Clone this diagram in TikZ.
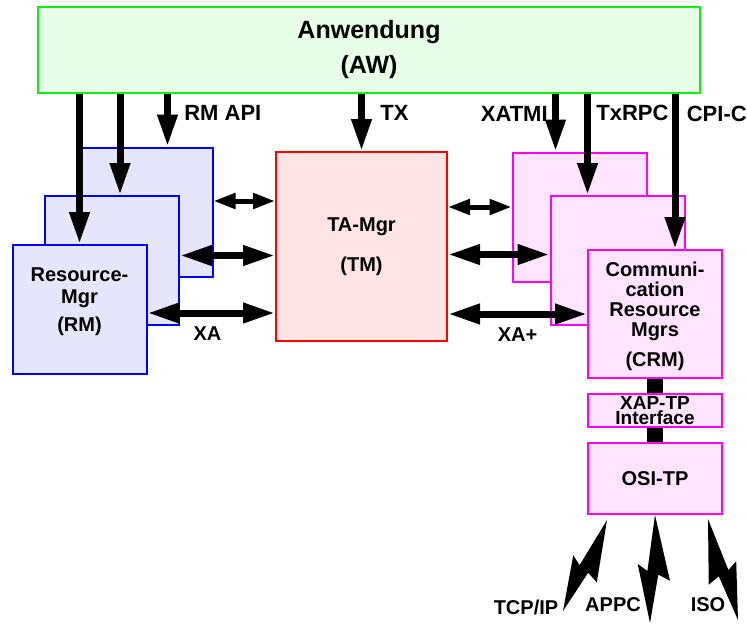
\documentclass[tikz,border=0pt]{standalone}
\usepackage{fontspec}
\setmainfont{Liberation Sans}
\usetikzlibrary{arrows.meta,calc}

\definecolor{awline}{HTML}{11EE11}
\definecolor{awfill}{HTML}{E6FFE6}
\definecolor{rmline}{HTML}{0000FF}
\definecolor{rmfill}{HTML}{E6E6FA}
\definecolor{tmline}{HTML}{FF0000}
\definecolor{tmfill}{HTML}{FFE4E4}
\definecolor{crmline}{HTML}{FF00FF}
\definecolor{crmfill}{HTML}{FFE4FF}

% lightning bolt from #1 to #2, #3/#4 = side angles
\newcommand\flash[4]{%
  \fill (#1) -- ($(#1)!0.6!(#2)!18pt!#3:(#2)$) -- ($(#1)!0.55!(#2)!6pt!#3:(#2)$) -- (#2)
    -- ($(#1)!0.46!(#2)!15pt!#4:(#2)$) -- ($(#1)!0.52!(#2)!5pt!#4:(#2)$) -- cycle;}

\begin{document}
\begin{tikzpicture}[
    x=1pt, y=-1pt,
    box/.style={draw, line width=2pt, minimum width=134pt, minimum height=129pt, align=center, font=\bfseries\fontsize{20}{22}\selectfont},
    rmbox/.style={box, draw=rmline, fill=rmfill},
    crmbox/.style={box, draw=crmline, fill=crmfill},
    call/.style={line width=7pt, -{Triangle[length=32pt, width=19pt]}},
    xa/.style={line width=7pt, {Triangle[length=32pt, width=19pt]}-{Triangle[length=32pt, width=19pt]}},
    xasmall/.style={line width=5pt, {Triangle[length=22pt, width=15pt]}-{Triangle[length=22pt, width=15pt]}},
    stackbar/.style={line width=16pt},
    apilabel/.style={font=\bfseries\fontsize{22}{24}\selectfont},
    xalabel/.style={font=\bfseries\fontsize{20}{22}\selectfont},
]
\useasboundingbox (0,0) rectangle (747,624);

\node[box, draw=awline, fill=awfill, minimum width=662pt, minimum height=86pt, font=\bfseries\fontsize{25}{35}\selectfont] (aw) at (369,50) {Anwendung\\(AW)};

\node[rmbox] (rmA) at (145.5,212) {};
\node[rmbox] (rmB) at (112,260.5) {};
\node[rmbox, text depth=20pt] (rm) at (79.5,309.5) {Resource-\\Mgr\\[6pt](RM)};

\node[box, draw=tmline, fill=tmfill, minimum width=171pt, minimum height=189pt] (tm) at (361.5,246.5) {TA-Mgr\\[18pt](TM)};

\node[crmbox] (crmA) at (579.5,217) {};
\node[crmbox] (crmB) at (617.5,260.5) {};
\node[crmbox, minimum height=128pt, text depth=0pt, font=\bfseries\fontsize{20}{20}\selectfont] (crm) at (655,314) {Communi-\\cation\\Resource\\Mgrs\\[10pt](CRM)};
\node[crmbox, minimum height=33pt, inner sep=0pt, font=\bfseries\fontsize{19}{15}\selectfont] (xap) at (655,410.5) {XAP-TP\\Interface};
\node[crmbox, minimum height=71pt] (osi) at (655,478.5) {OSI-TP};

% calls from the application
\coordinate (rmAin) at ([xshift=22pt]rmA.north);
\coordinate (rmBin) at ([xshift=8pt]rmB.north);
\coordinate (crmAin) at ([xshift=-24pt]crmA.north);
\coordinate (crmBin) at ([xshift=-30pt]crmB.north);
\coordinate (crmin) at ([xshift=20pt]crm.north);

\draw[call] (aw.south -| rm.north) -- (rm.north);
\draw[call] (aw.south -| rmBin) -- (rmBin);
\draw[call] (aw.south -| rmAin) -- node[apilabel, right=10pt, pos=0.37] {RM API} (rmAin);
\draw[call] (aw.south -| tm.north) -- node[apilabel, right=12pt, pos=0.34] {TX} (tm.north);
\draw[call] (aw.south -| crmAin) -- node[apilabel, left=1pt, pos=0.34] {XATMI} (crmAin);
\draw[call] (aw.south -| crmBin) -- node[apilabel, right=2pt, pos=0.19] {TxRPC} (crmBin);
\draw[call] (aw.south -| crmin) -- node[apilabel, right=5pt, pos=0.13] {CPI-C} (crmin);

% XA / XA+ interfaces
\coordinate (rmAout) at ([yshift=11pt]rmA.east);
\coordinate (rmBout) at ([yshift=5pt]rmB.east);
\coordinate (rmout) at ([yshift=-3.5pt]rm.east);
\draw[xasmall] (rmAout) -- (rmAout -| tm.west);
\draw[xa] (rmBout) -- (rmBout -| tm.west);
\draw[xa] (rmout) -- node[xalabel, below=7pt, pos=0.47] {XA} (rmout -| tm.west);

\coordinate (crmAport) at ([yshift=10pt]crmA.west);
\coordinate (crmBport) at ([yshift=6pt]crmB.west);
\draw[xasmall] (crmAport -| tm.east) -- (crmAport);
\draw[xa] (crmBport -| tm.east) -- (crmBport);
\draw[xa] (crm.west -| tm.east) -- node[xalabel, below=7pt, pos=0.5] {XA+} (crm.west);

% protocol stack
\draw[stackbar] (crm.south) -- (xap.north);
\draw[stackbar] (xap.south) -- (osi.north);

% networks
\coordinate (tcpfrom) at ([xshift=20pt,yshift=-5pt]osi.south west);
\coordinate (tcp) at (563,611);
\coordinate (appc) at (650,623);
\coordinate (isofrom) at ([xshift=-15pt,yshift=-4pt]osi.south east);
\coordinate (iso) at (738,620);
\flash{tcpfrom}{tcp}{90}{270}
\flash{osi.south}{appc}{90}{270}
\flash{isofrom}{iso}{270}{90}

\node[xalabel] (ltcp) at (526,607) {TCP/IP};
\node[xalabel] (lappc) at (613,605) {APPC};
\node[xalabel] (liso) at (708,605) {ISO};
\end{tikzpicture}
\end{document}
